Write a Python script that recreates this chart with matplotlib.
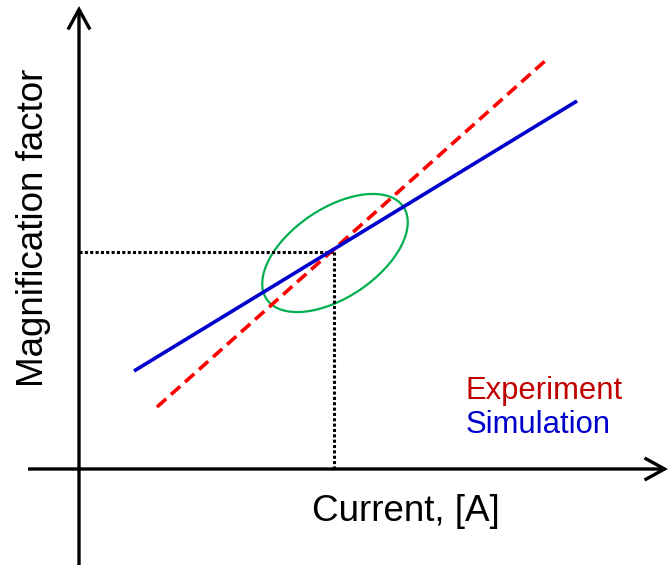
import matplotlib
matplotlib.use("Agg")
import matplotlib.pyplot as plt
from matplotlib.patches import Ellipse, FancyArrowPatch

plt.rcParams['font.family'] = ['Liberation Sans', 'DejaVu Sans']

# Schematic coordinates (arbitrary units, origin bottom-left of canvas)
axis_origin = (79, 98)
x_axis_span = [28, 668]
y_axis_span = [2, 561]

sim_current = [134, 577]
sim_mag = [196, 466]

exp_current = [157, 545]
exp_mag = [160, 506]

op_current = 334
op_mag = 315

region_center = (335, 314)
region_width = 165
region_height = 89
region_angle = 34

labels = {
    "x": "Current, [A]",
    "y": "Magnification factor",
    "exp": "Experiment",
    "sim": "Simulation",
}

fig = plt.figure(figsize=(6.69, 5.67), dpi=100)
ax = fig.add_axes([0, 0, 1, 1])
ax.set_xlim(0, 669)
ax.set_ylim(0, 567)
ax.axis('off')

# Axes arrows
arrow_kw = dict(arrowstyle='->,head_length=0.4,head_width=0.22', mutation_scale=36,
                lw=2.4, color='black', shrinkA=0, shrinkB=0, joinstyle='miter',
                capstyle='butt')
ax.add_patch(FancyArrowPatch((x_axis_span[0], axis_origin[1]),
                             (x_axis_span[1], axis_origin[1]), **arrow_kw))
ax.add_patch(FancyArrowPatch((axis_origin[0], y_axis_span[0]),
                             (axis_origin[0], y_axis_span[1]), **arrow_kw))

# Operating point guides
dot = (0, (1.0, 0.75))
ax.plot([axis_origin[0], op_current], [op_mag, op_mag], color='black', lw=2.2,
        linestyle=dot, dash_capstyle='butt')
ax.plot([op_current, op_current], [op_mag, axis_origin[1]], color='black', lw=2.2,
        linestyle=dot, dash_capstyle='butt')

# Experiment and simulation trends
ax.plot(exp_current, exp_mag, color='#ff0000', lw=2.6, linestyle=(0, (3.4, 1.8)),
        dash_capstyle='butt')
ax.plot(sim_current, sim_mag, color='#0000cc', lw=2.6, solid_capstyle='butt')

# Region of interest
ax.add_patch(Ellipse(region_center, region_width, region_height, angle=region_angle,
                     fill=False, edgecolor='#00b050', lw=1.6))

# Labels
ax.text(312, 46, labels["x"], fontsize=26.5, ha='left', va='baseline', color='black')
ax.text(43, 339, labels["y"], fontsize=26.5, rotation=90, rotation_mode='anchor',
        ha='center', va='baseline', color='black')
ax.text(466, 168, labels["exp"], fontsize=22.3, ha='left', va='baseline', color='#c00000')
ax.text(466, 134, labels["sim"], fontsize=22.3, ha='left', va='baseline', color='#0000cc')

fig.savefig('out.png', dpi=100)
